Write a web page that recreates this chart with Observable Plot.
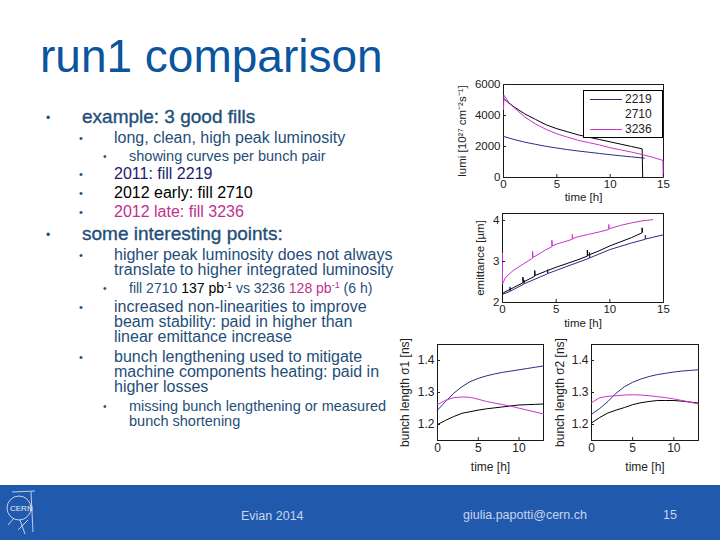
<!DOCTYPE html>
<html><head><meta charset="utf-8">
<script src="https://cdn.jsdelivr.net/npm/d3@7"></script>
<script src="https://cdn.jsdelivr.net/npm/@observablehq/plot@0.6"></script>
<style>
body{margin:0;background:#fff;}
#slide{position:relative;width:720px;height:540px;overflow:hidden;font-family:"Liberation Sans",Arial,sans-serif;background:#fff;}
#bg{position:absolute;left:0;top:0;}
.chart{position:absolute;}
.chart svg{overflow:visible;}
#legend{position:absolute;left:583px;top:90px;width:78px;height:46px;border:1px solid #000;background:#fff;font-size:12px;color:#222;}
#legend .row{position:absolute;left:6px;height:15px;}
#legend .ln{position:absolute;left:0;top:7px;width:32px;height:0;border-top:1px solid;}
#legend .lb{position:absolute;left:35px;top:0;}
</style></head><body><div id="slide"></div>
<script>
// ---- data ----
const fills = ["2219", "2710", "3236"];
const fillColors = ["#2c2c88", "#000000", "#cc33cc"];

// luminosity [1e27 cm^-2 s^-1] vs time [h]
const lumiT2219 = [0, 1, 2, 3, 4, 5, 6, 7, 8, 9, 10, 11, 12, 13.2];
const lumiV2219 = [2650, 2450, 2280, 2140, 2010, 1900, 1800, 1710, 1630, 1550, 1470, 1400, 1330, 1250];
const lumiT2710 = [0, 0.5, 1, 2, 3, 4, 5, 6, 7, 8, 9, 10, 11, 12, 13, 13.05];
const lumiV2710 = [5100, 4800, 4550, 4100, 3750, 3400, 3150, 2950, 2750, 2600, 2450, 2300, 2150, 2000, 1850, 0];
const lumiT3236 = [0, 0.05, 0.5, 1, 2, 3, 4, 5, 6, 7, 8, 9, 10, 11, 12, 13, 14, 14.95, 14.97];
const lumiV3236 = [4400, 5300, 4850, 4500, 3900, 3450, 3100, 2820, 2600, 2400, 2250, 2100, 1920, 1780, 1640, 1480, 1300, 1100, 0];

// emittance [um] vs time [h]
const emitT2219 = [0, 0.7, 0.7, 0.75, 2, 2, 2.05, 4.2, 4.2, 4.25, 6, 8.1, 8.1, 8.15, 10, 12, 13.3, 13.3, 13.35, 15];
const emitV2219 = [2.2, 2.27, 2.38, 2.28, 2.45, 2.55, 2.46, 2.7, 2.8, 2.71, 2.88, 3.08, 3.22, 3.09, 3.29, 3.45, 3.54, 3.64, 3.55, 3.65];
const emitT2710 = [0, 0, 0.1, 1, 1.9, 1.9, 1.95, 3, 3, 3.05, 4, 5, 6, 7, 7.9, 7.9, 7.95, 9, 10, 11, 12, 13, 13, 13.05];
const emitV2710 = [2.4, 2.2, 2.24, 2.36, 2.48, 2.62, 2.5, 2.64, 2.78, 2.66, 2.76, 2.86, 2.95, 3.04, 3.13, 3.28, 3.15, 3.26, 3.38, 3.48, 3.58, 3.7, 3.82, 3.72];
const emitT3236 = [0, 0, 0.3, 1, 2, 2.8, 2.8, 2.85, 3.5, 4, 4.6, 4.6, 4.65, 5, 6, 6.5, 6.5, 6.55, 7, 8, 9, 9.9, 9.9, 9.95, 11, 12, 13, 14];
const emitV3236 = [3.2, 2.45, 2.62, 2.78, 2.95, 3.08, 3.25, 3.1, 3.2, 3.28, 3.36, 3.52, 3.38, 3.42, 3.5, 3.54, 3.66, 3.56, 3.6, 3.66, 3.72, 3.78, 3.9, 3.8, 3.88, 3.94, 3.99, 4.02];

// bunch length [ns] vs time [h]
const blT = [0, 1, 2, 3, 4, 5, 6, 7, 8, 9, 10, 11, 12, 13];
const bl1_2219 = [1.245, 1.272, 1.298, 1.318, 1.334, 1.344, 1.352, 1.358, 1.363, 1.367, 1.371, 1.375, 1.379, 1.383];
const bl1_2710 = [1.2, 1.213, 1.225, 1.235, 1.24, 1.245, 1.249, 1.252, 1.255, 1.258, 1.261, 1.262, 1.263, 1.264];
const bl1_3236 = [1.262, 1.276, 1.284, 1.286, 1.285, 1.279, 1.272, 1.267, 1.262, 1.257, 1.251, 1.245, 1.239, 1.233];
const bl2_2219 = [1.232, 1.25, 1.272, 1.298, 1.318, 1.332, 1.342, 1.35, 1.356, 1.36, 1.364, 1.367, 1.369, 1.371];
const bl2_2710 = [1.205, 1.222, 1.236, 1.245, 1.253, 1.262, 1.268, 1.272, 1.275, 1.275, 1.275, 1.273, 1.27, 1.267];
const bl2_3236 = [1.268, 1.284, 1.288, 1.29, 1.292, 1.293, 1.292, 1.29, 1.287, 1.284, 1.28, 1.275, 1.27, 1.264];

const lumiTicks = [0, 2000, 4000, 6000];
const emitTicks = [2, 3, 4];
const blTicks = [1.2, 1.3, 1.4];
const time15Ticks = [0, 5, 10, 15];
const time13Ticks = [0, 5, 10];

// ---- slide background text ----
const slide = document.getElementById("slide");
const NS = "http://www.w3.org/2000/svg";
const C = "#1f4e79";
slide.innerHTML = `
<svg id="bg" width="720" height="540" xmlns="${NS}" font-family="Liberation Sans, Arial, sans-serif">
  <text x="40" y="72" font-size="46" fill="#0b559f">run1 comparison</text>
  <g fill="${C}">
    <text x="46" y="122" font-size="12">•</text>
    <text x="82" y="123" font-size="19" stroke="${C}" stroke-width="0.35">example: 3 good fills</text>
    <text x="79" y="142" font-size="11">•</text>
    <text x="114" y="143" font-size="16">long, clean, high peak luminosity</text>
    <text x="103" y="160" font-size="10">•</text>
    <text x="129" y="161" font-size="14.5">showing curves per bunch pair</text>
    <text x="79" y="178" font-size="11">•</text>
    <text x="114" y="179" font-size="16" fill="#1b1b70">2011: fill 2219</text>
    <text x="79" y="197" font-size="11">•</text>
    <text x="114" y="198" font-size="16" fill="#000">2012 early: fill 2710</text>
    <text x="79" y="216" font-size="11">•</text>
    <text x="114" y="217" font-size="16" fill="#c0308c">2012 late: fill 3236</text>
    <text x="46" y="239" font-size="12">•</text>
    <text x="82" y="240" font-size="19" stroke="${C}" stroke-width="0.35">some interesting points:</text>
    <text x="79" y="259" font-size="11">•</text>
    <text x="114" y="260" font-size="16">higher peak luminosity does not always</text>
    <text x="114" y="275" font-size="16">translate to higher integrated luminosity</text>
    <text x="103" y="292" font-size="10">•</text>
    <text x="129" y="293" font-size="14">fill 2710 <tspan fill="#000">137 pb<tspan dy="-5" font-size="9">-1</tspan></tspan><tspan dy="5"> vs 3236 </tspan><tspan fill="#c0308c">128 pb<tspan dy="-5" font-size="9">-1</tspan></tspan><tspan dy="5"> (6 h)</tspan></text>
    <text x="79" y="311" font-size="11">•</text>
    <text x="114" y="312" font-size="16">increased non-linearities to improve</text>
    <text x="114" y="327" font-size="16">beam stability: paid in higher than</text>
    <text x="114" y="342" font-size="16">linear emittance increase</text>
    <text x="79" y="361" font-size="11">•</text>
    <text x="114" y="362" font-size="16">bunch lengthening used to mitigate</text>
    <text x="114" y="377" font-size="16">machine components heating: paid in</text>
    <text x="114" y="392" font-size="16">higher losses</text>
    <text x="103" y="410" font-size="10">•</text>
    <text x="129" y="411" font-size="14.5">missing bunch lengthening or measured</text>
    <text x="129" y="426" font-size="14.5">bunch shortening</text>
  </g>
  <rect x="0" y="485" width="720" height="55" fill="#2159ad"/>
  <g fill="none" stroke="#e8eef8" stroke-width="0.8">
    <circle cx="19" cy="508" r="12"/>
    <path d="M12 492 L35 491 M31 492 L33 532 M8 525 L14 518 M20 520 L25 534 M28 520 L18 530"/>
  </g>
  <text x="10" y="511" font-size="8" fill="#e8eef8">CERN</text>
  <g fill="#c8d6ee" font-size="12.5">
    <text x="241" y="520">Evian 2014</text>
    <text x="463" y="519">giulia.papotti@cern.ch</text>
    <text x="663" y="519">15</text>
  </g>
</svg>`;

// ---- charts ----
function series(ts, vs) {
  return fills.flatMap((f, k) => ts[k].map((t, i) => ({t, v: vs[k][i], fill: f})));
}

function chart(o) {
  const fig = Plot.plot({
    width: o.width, height: o.height,
    marginLeft: o.mL, marginRight: o.mR, marginTop: o.mT, marginBottom: o.mB,
    style: {fontFamily: "Liberation Sans, Arial, sans-serif", fontSize: o.fs + "px", color: "#222", background: "transparent"},
    x: {domain: o.xDomain},
    y: {domain: o.yDomain},
    color: {domain: fills, range: fillColors},
    marks: [
      Plot.frame({stroke: "#000", strokeWidth: 0.9}),
      Plot.line(o.data, {x: "t", y: "v", z: "fill", stroke: "fill", strokeWidth: 1}),
      Plot.axisX({ticks: o.xTicks, tickSize: -3, tickPadding: o.xPad, tickFormat: d => String(d),
        label: "time [h]", labelAnchor: "center", labelOffset: o.xLO, labelArrow: "none"}),
      Plot.axisY({ticks: o.yTicks, tickSize: -3, tickPadding: 6, tickFormat: o.yFmt,
        label: o.yLabel, labelAnchor: "center", labelOffset: o.yLO, labelArrow: "none"})
    ]
  });
  const div = document.createElement("div");
  div.className = "chart";
  div.style.left = o.left + "px";
  div.style.top = o.top + "px";
  div.appendChild(fig);
  slide.appendChild(div);
}

chart({left: 450, top: 70, width: 225, height: 140, mL: 53, mR: 12, mT: 14, mB: 33, fs: 11.5,
  xDomain: [0, 15], yDomain: [0, 6000], xTicks: time15Ticks, yTicks: lumiTicks, yFmt: d => String(d),
  yLabel: "lumi [10²⁷ cm⁻²s⁻¹]", xPad: 5, xLO: 23, yLO: 46,
  data: series([lumiT2219, lumiT2710, lumiT3236], [lumiV2219, lumiV2710, lumiV3236])});

chart({left: 450, top: 205, width: 225, height: 130, mL: 52, mR: 12, mT: 8, mB: 33, fs: 11.5,
  xDomain: [0, 15], yDomain: [2, 4.17], xTicks: time15Ticks, yTicks: emitTicks, yFmt: d => String(d),
  yLabel: "emittance [µm]", xPad: 5, xLO: 24, yLO: 27,
  data: series([emitT2219, emitT2710, emitT3236], [emitV2219, emitV2710, emitV3236])});

chart({left: 395, top: 330, width: 155, height: 150, mL: 42, mR: 7, mT: 14, mB: 40, fs: 12,
  xDomain: [0, 13], yDomain: [1.15, 1.45], xTicks: time13Ticks, yTicks: blTicks, yFmt: d3.format(".1f"),
  yLabel: "bunch length σ1 [ns]", xPad: 6, xLO: 30, yLO: 37,
  data: series([blT, blT, blT], [bl1_2219, bl1_2710, bl1_3236])});

chart({left: 550, top: 330, width: 170, height: 150, mL: 41, mR: 22, mT: 14, mB: 40, fs: 12,
  xDomain: [0, 13], yDomain: [1.15, 1.45], xTicks: time13Ticks, yTicks: blTicks, yFmt: d3.format(".1f"),
  yLabel: "bunch length σ2 [ns]", xPad: 6, xLO: 30, yLO: 36,
  data: series([blT, blT, blT], [bl2_2219, bl2_2710, bl2_3236])});

// legend for the luminosity panel
const leg = document.createElement("div");
leg.id = "legend";
leg.innerHTML = fills.map((f, i) =>
  `<div class="row" style="top:${1 + i * 15}px"><div class="ln" style="border-color:${f === "2710" ? "#fff" : fillColors[i]}"></div><span class="lb">${f}</span></div>`).join("");
slide.appendChild(leg);
</script>
</body></html>
